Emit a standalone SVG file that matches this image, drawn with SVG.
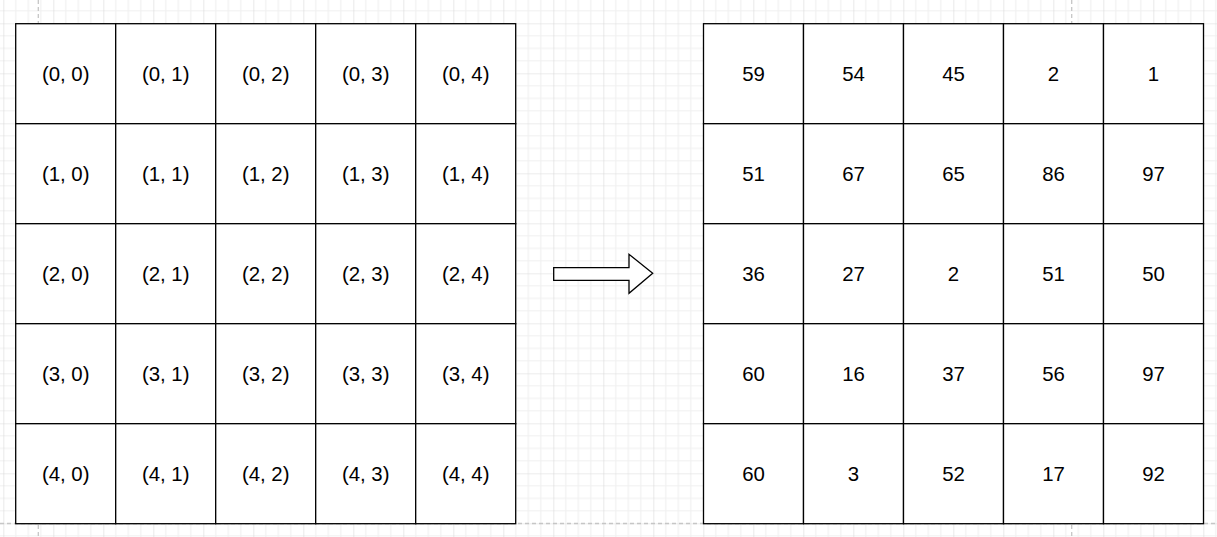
<svg xmlns="http://www.w3.org/2000/svg" width="1217" height="537" viewBox="0 0 1217 537">
<style>
.cell{fill:#fff;stroke:#000;stroke-width:1.3}
.t{font-family:"Liberation Sans",Arial,sans-serif;font-size:20.4px;fill:#000;text-anchor:middle}
.page{stroke:#c6c6c6;stroke-width:1.3;stroke-dasharray:4 3;fill:none}
</style>
<defs>
<pattern id="grid" patternUnits="userSpaceOnUse" x="3.33" y="23.33" width="50" height="50">
<path d="M12.5 0V50M25 0V50M37.5 0V50M0 12.5H50M0 25H50M0 37.5H50" stroke="#f0f0f0" stroke-width="1.2" fill="none"/>
<path d="M0 0V50M0 0H50" stroke="#dadada" stroke-width="1.2" fill="none"/>
</pattern>
</defs>
<rect width="1217" height="537" fill="#fff"/>
<rect width="1217" height="537" fill="url(#grid)"/>
<g id="page-breaks">
<path class="page" d="M38.3 0V537M1071.7 0V537M0 523.5H1217"/>
</g>
<g id="left-table">
<g id="l00"><rect class="cell" x="15.7" y="23.7" width="100" height="100"/><text class="t" x="65.7" y="80.9">(0, 0)</text></g>
<g id="l01"><rect class="cell" x="115.7" y="23.7" width="100" height="100"/><text class="t" x="165.7" y="80.9">(0, 1)</text></g>
<g id="l02"><rect class="cell" x="215.7" y="23.7" width="100" height="100"/><text class="t" x="265.7" y="80.9">(0, 2)</text></g>
<g id="l03"><rect class="cell" x="315.7" y="23.7" width="100" height="100"/><text class="t" x="365.7" y="80.9">(0, 3)</text></g>
<g id="l04"><rect class="cell" x="415.7" y="23.7" width="100" height="100"/><text class="t" x="465.7" y="80.9">(0, 4)</text></g>
<g id="l10"><rect class="cell" x="15.7" y="123.7" width="100" height="100"/><text class="t" x="65.7" y="180.9">(1, 0)</text></g>
<g id="l11"><rect class="cell" x="115.7" y="123.7" width="100" height="100"/><text class="t" x="165.7" y="180.9">(1, 1)</text></g>
<g id="l12"><rect class="cell" x="215.7" y="123.7" width="100" height="100"/><text class="t" x="265.7" y="180.9">(1, 2)</text></g>
<g id="l13"><rect class="cell" x="315.7" y="123.7" width="100" height="100"/><text class="t" x="365.7" y="180.9">(1, 3)</text></g>
<g id="l14"><rect class="cell" x="415.7" y="123.7" width="100" height="100"/><text class="t" x="465.7" y="180.9">(1, 4)</text></g>
<g id="l20"><rect class="cell" x="15.7" y="223.7" width="100" height="100"/><text class="t" x="65.7" y="280.9">(2, 0)</text></g>
<g id="l21"><rect class="cell" x="115.7" y="223.7" width="100" height="100"/><text class="t" x="165.7" y="280.9">(2, 1)</text></g>
<g id="l22"><rect class="cell" x="215.7" y="223.7" width="100" height="100"/><text class="t" x="265.7" y="280.9">(2, 2)</text></g>
<g id="l23"><rect class="cell" x="315.7" y="223.7" width="100" height="100"/><text class="t" x="365.7" y="280.9">(2, 3)</text></g>
<g id="l24"><rect class="cell" x="415.7" y="223.7" width="100" height="100"/><text class="t" x="465.7" y="280.9">(2, 4)</text></g>
<g id="l30"><rect class="cell" x="15.7" y="323.7" width="100" height="100"/><text class="t" x="65.7" y="380.9">(3, 0)</text></g>
<g id="l31"><rect class="cell" x="115.7" y="323.7" width="100" height="100"/><text class="t" x="165.7" y="380.9">(3, 1)</text></g>
<g id="l32"><rect class="cell" x="215.7" y="323.7" width="100" height="100"/><text class="t" x="265.7" y="380.9">(3, 2)</text></g>
<g id="l33"><rect class="cell" x="315.7" y="323.7" width="100" height="100"/><text class="t" x="365.7" y="380.9">(3, 3)</text></g>
<g id="l34"><rect class="cell" x="415.7" y="323.7" width="100" height="100"/><text class="t" x="465.7" y="380.9">(3, 4)</text></g>
<g id="l40"><rect class="cell" x="15.7" y="423.7" width="100" height="100"/><text class="t" x="65.7" y="480.9">(4, 0)</text></g>
<g id="l41"><rect class="cell" x="115.7" y="423.7" width="100" height="100"/><text class="t" x="165.7" y="480.9">(4, 1)</text></g>
<g id="l42"><rect class="cell" x="215.7" y="423.7" width="100" height="100"/><text class="t" x="265.7" y="480.9">(4, 2)</text></g>
<g id="l43"><rect class="cell" x="315.7" y="423.7" width="100" height="100"/><text class="t" x="365.7" y="480.9">(4, 3)</text></g>
<g id="l44"><rect class="cell" x="415.7" y="423.7" width="100" height="100"/><text class="t" x="465.7" y="480.9">(4, 4)</text></g>
</g>
<g id="arrow">
<path d="M553.7 267.7H629V254.3L652.7 273.3L629 293.3V280.3H553.7Z" fill="#fff" stroke="#000" stroke-width="1.3" stroke-linejoin="miter"/>
</g>
<g id="right-table">
<g id="r00"><rect class="cell" x="703.5" y="23.7" width="100" height="100"/><text class="t" x="753.5" y="80.9">59</text></g>
<g id="r01"><rect class="cell" x="803.5" y="23.7" width="100" height="100"/><text class="t" x="853.5" y="80.9">54</text></g>
<g id="r02"><rect class="cell" x="903.5" y="23.7" width="100" height="100"/><text class="t" x="953.5" y="80.9">45</text></g>
<g id="r03"><rect class="cell" x="1003.5" y="23.7" width="100" height="100"/><text class="t" x="1053.5" y="80.9">2</text></g>
<g id="r04"><rect class="cell" x="1103.5" y="23.7" width="100" height="100"/><text class="t" x="1153.5" y="80.9">1</text></g>
<g id="r10"><rect class="cell" x="703.5" y="123.7" width="100" height="100"/><text class="t" x="753.5" y="180.9">51</text></g>
<g id="r11"><rect class="cell" x="803.5" y="123.7" width="100" height="100"/><text class="t" x="853.5" y="180.9">67</text></g>
<g id="r12"><rect class="cell" x="903.5" y="123.7" width="100" height="100"/><text class="t" x="953.5" y="180.9">65</text></g>
<g id="r13"><rect class="cell" x="1003.5" y="123.7" width="100" height="100"/><text class="t" x="1053.5" y="180.9">86</text></g>
<g id="r14"><rect class="cell" x="1103.5" y="123.7" width="100" height="100"/><text class="t" x="1153.5" y="180.9">97</text></g>
<g id="r20"><rect class="cell" x="703.5" y="223.7" width="100" height="100"/><text class="t" x="753.5" y="280.9">36</text></g>
<g id="r21"><rect class="cell" x="803.5" y="223.7" width="100" height="100"/><text class="t" x="853.5" y="280.9">27</text></g>
<g id="r22"><rect class="cell" x="903.5" y="223.7" width="100" height="100"/><text class="t" x="953.5" y="280.9">2</text></g>
<g id="r23"><rect class="cell" x="1003.5" y="223.7" width="100" height="100"/><text class="t" x="1053.5" y="280.9">51</text></g>
<g id="r24"><rect class="cell" x="1103.5" y="223.7" width="100" height="100"/><text class="t" x="1153.5" y="280.9">50</text></g>
<g id="r30"><rect class="cell" x="703.5" y="323.7" width="100" height="100"/><text class="t" x="753.5" y="380.9">60</text></g>
<g id="r31"><rect class="cell" x="803.5" y="323.7" width="100" height="100"/><text class="t" x="853.5" y="380.9">16</text></g>
<g id="r32"><rect class="cell" x="903.5" y="323.7" width="100" height="100"/><text class="t" x="953.5" y="380.9">37</text></g>
<g id="r33"><rect class="cell" x="1003.5" y="323.7" width="100" height="100"/><text class="t" x="1053.5" y="380.9">56</text></g>
<g id="r34"><rect class="cell" x="1103.5" y="323.7" width="100" height="100"/><text class="t" x="1153.5" y="380.9">97</text></g>
<g id="r40"><rect class="cell" x="703.5" y="423.7" width="100" height="100"/><text class="t" x="753.5" y="480.9">60</text></g>
<g id="r41"><rect class="cell" x="803.5" y="423.7" width="100" height="100"/><text class="t" x="853.5" y="480.9">3</text></g>
<g id="r42"><rect class="cell" x="903.5" y="423.7" width="100" height="100"/><text class="t" x="953.5" y="480.9">52</text></g>
<g id="r43"><rect class="cell" x="1003.5" y="423.7" width="100" height="100"/><text class="t" x="1053.5" y="480.9">17</text></g>
<g id="r44"><rect class="cell" x="1103.5" y="423.7" width="100" height="100"/><text class="t" x="1153.5" y="480.9">92</text></g>
</g>
</svg>
